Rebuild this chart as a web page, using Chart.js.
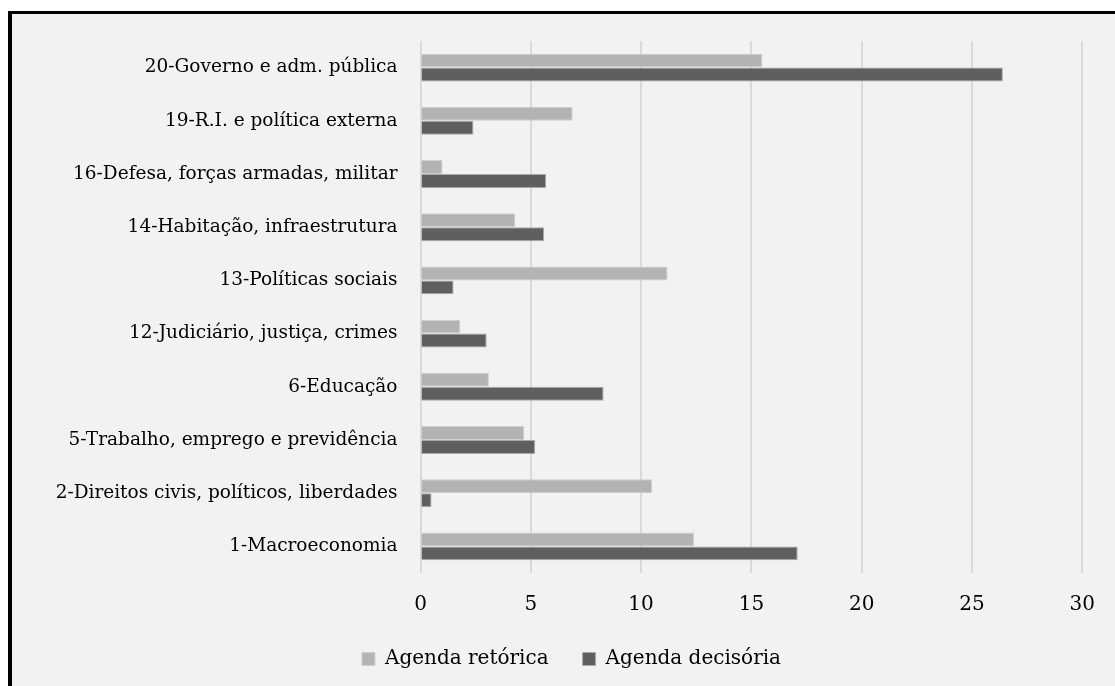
<!DOCTYPE html>
<html>
<head>
<meta charset="utf-8">
<script src="https://cdn.jsdelivr.net/npm/chart.js@4/dist/chart.umd.min.js"></script>
<style>
  html, body { margin: 0; padding: 0; background: #ffffff; }
  body { width: 1115px; height: 686px; overflow: hidden; position: relative; }
  #frame {
    position: absolute; left: 8px; top: 11px; right: 0; bottom: 0;
    border-left: 4px solid #000; border-top: 3px solid #000;
    background: #f2f2f2;
  }
  #wrap { position: absolute; left: 0; top: 0; width: 1103px; height: 672px; }
</style>
</head>
<body>
<div id="frame"><div id="wrap"><canvas id="c"></canvas></div></div>
<script>
// Policy topics, listed top to bottom
const categories = [
  '20-Governo e adm. pública',
  '19-R.I. e política externa',
  '16-Defesa, forças armadas, militar',
  '14-Habitação, infraestrutura',
  '13-Políticas sociais',
  '12-Judiciário, justiça, crimes',
  '6-Educação',
  '5-Trabalho, emprego e previdência',
  '2-Direitos civis, políticos, liberdades',
  '1-Macroeconomia'
];
const agendaRetorica  = [15.5, 6.9, 1.0, 4.3, 11.2, 1.8, 3.1, 4.7, 10.5, 12.4];
const agendaDecisoria = [26.4, 2.4, 5.7, 5.6, 1.5, 3.0, 8.3, 5.2, 0.5, 17.1];
const xTicks = [0, 5, 10, 15, 20, 25, 30];

const FONT = 'DejaVu Serif';
const SIZE = 20;
const LABEL_SIZE = 18.5;
const textColor = '#000000';

// Nudges the bottom legend a little to the right of the canvas centre
const legendShift = {
  id: 'legendShift',
  afterLayout(chart) {
    const lg = chart.legend;
    if (lg) { lg.left += 24; lg.right += 24; }
  }
};

new Chart(document.getElementById('c'), {
  type: 'bar',
  data: {
    labels: categories,
    datasets: [
      { label: 'Agenda retórica', data: agendaRetorica,
        backgroundColor: '#b3b3b3', borderColor: '#cfcfcf', borderWidth: 1,
        categoryPercentage: 0.525, barPercentage: 1.0 },
      { label: 'Agenda decisória', data: agendaDecisoria,
        backgroundColor: '#5f5f5f', borderColor: '#a9a9a9', borderWidth: 1,
        categoryPercentage: 0.525, barPercentage: 1.0 }
    ]
  },
  plugins: [legendShift],
  options: {
    indexAxis: 'y',
    responsive: true,
    maintainAspectRatio: false,
    animation: false,
    layout: { padding: { top: 27, right: 32, left: 0, bottom: 7 } },
    scales: {
      x: {
        min: 0, max: 30,
        afterBuildTicks: (s) => { s.ticks = xTicks.map(v => ({ value: v })); },
        afterFit: (s) => { s.height = 42; },
        grid: { color: '#d9d9d9', lineWidth: 2, drawTicks: false },
        border: { display: false },
        ticks: { color: textColor, padding: 20, font: { family: FONT, size: SIZE } }
      },
      y: {
        afterFit: (s) => { s.width = 408.5; s.paddingTop = 0; s.paddingBottom = 0; },
        grid: { display: false, drawTicks: false },
        border: { display: false },
        ticks: { color: textColor, padding: 23, font: { family: FONT, size: LABEL_SIZE } }
      }
    },
    plugins: {
      legend: {
        position: 'bottom',
        labels: {
          color: textColor, boxWidth: 13, boxHeight: 13, padding: 34,
          font: { family: FONT, size: SIZE }
        }
      },
      tooltip: { enabled: false }
    }
  }
});
</script>
</body>
</html>
